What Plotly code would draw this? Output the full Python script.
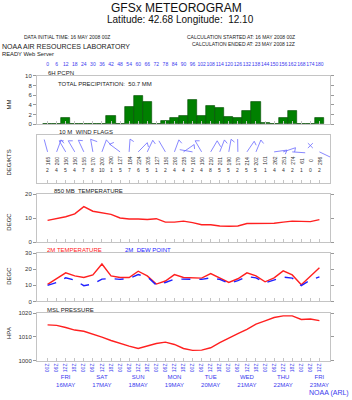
import math
import plotly.graph_objects as go

# ---------------- data ----------------
hours = list(range(0, 181, 6))
hour_labels = [str(h) for h in hours]
utc_labels = ["00Z", "06Z", "12Z", "18Z"] * 7 + ["00Z", "06Z", "12Z"]
day_ticks = [12, 36, 60, 84, 108, 132, 156, 180]
day_labels = ["FRI<br>16MAY", "SAT<br>17MAY", "SUN<br>18MAY", "MON<br>19MAY",
              "TUE<br>20MAY", "WED<br>21MAY", "THU<br>22MAY", "FRI<br>23MAY"]

precip = [0, 0, 1.3, 0.1, 0, 0, 0, 1.7, 0, 3.5, 5.9, 4.7, 0, 0.7, 1.4, 1.7,
          5.0, 1.7, 3.8, 3.4, 1.5, 1.3, 2.7, 4.7, 0.2, 0.05, 1.4, 2.8, 0, 0, 1.2]
t850 = [9.1, 9.9, 10.6, 11.8, 14.8, 12.9, 12.1, 11.6, 10.1, 9.7, 9.7, 9.5, 9.8,
        8.4, 8.4, 8.8, 8.2, 7.3, 7.3, 6.8, 6.7, 6.8, 7.8, 7.9, 8.0, 7.9, 8.4,
        8.8, 8.7, 8.6, 9.4]
t2m = [10.6, 14.1, 17.8, 15.9, 14.9, 16.5, 23.3, 15.9, 14.9, 14.9, 18.8, 15.9,
       10.8, 12.7, 16.7, 14.9, 14.5, 14.5, 17.3, 14.5, 11.8, 14.1, 17.8, 15.9,
       12.2, 14.7, 19.0, 16.5, 10.4, 15.7, 21.0]
td2m = [10.0, 11.8, 14.7, 13.3, 9.8, 10.8, 13.9, 14.3, 13.7, 14.3, 16.7, 15.3,
        10.2, 11.8, 13.9, 13.9, 13.5, 13.7, 14.7, 13.7, 11.2, 12.9, 15.5, 14.7,
        11.6, 13.3, 15.1, 14.5, 9.8, 13.3, 15.3]
mslp = [1015.1, 1014.9, 1014.0, 1012.9, 1012.4, 1011.3, 1009.9, 1008.5, 1007.2,
        1006.1, 1005.1, 1006.1, 1007.2, 1007.8, 1006.8, 1005.1, 1004.3, 1004.4,
        1005.4, 1007.6, 1009.6, 1011.4, 1013.2, 1015.4, 1016.8, 1018.2, 1018.9,
        1018.9, 1017.4, 1017.6, 1016.9]
wind_dir = [165, 200, 150, 150, 155, 170, 200, 290, 127, 184, 224, 205, 127, 150,
            200, 235, 100, 150, 210, 201, 190, 179, 214, 202, 101, 262, 251, 274,
            61, 0, 296]
wind_spd = [2, 4, 5, 4, 7, 8, 10, 1, 5, 7, 6, 5, 1, 2, 4, 4, 2, 4, 8, 5, 5, 2, 5,
            5, 1, 4, 4, 2, 1, 0, 2]

# ---------------- layout helpers ----------------
W, H = 352, 400
BLUE = "#3a3aee"
FRAME = "#c4c4c4"
FONT = "Liberation Sans"
XR = [-7, 187]
xdom = [37 / W, 330 / W]
panels = [(74, 123), (134, 183), (194, 243), (254, 303), (315, 363)]


def ydom(top, bot):
    return [1 - bot / H, 1 - top / H]


def py(px):
    return 1 - px / H


fig = go.Figure()

# precipitation bars
fig.add_trace(go.Bar(x=hours, y=precip, width=6, marker_color="#008000",
                     marker_line=dict(color="#004a00", width=0.6),
                     xaxis="x", yaxis="y", hoverinfo="skip"))

# wind flags
PXH = (330 - 37) / (XR[1] - XR[0])
PXU = 49 / 10.0
BASE = 6.5


def endpoint(x0, y0, ang, L):
    return (x0 + L * math.sin(math.radians(ang)) / PXH,
            y0 + L * math.cos(math.radians(ang)) / PXU)


wx, wy = [], []
for t, d, s in zip(hours, wind_dir, wind_spd):
    if s == 0:
        cy = BASE + 1.3
        for a in (45, 135):
            p1 = endpoint(t, cy, a, 3.5)
            p2 = endpoint(t, cy, a + 180, 3.5)
            wx += [p1[0], p2[0], None]
            wy += [p1[1], p2[1], None]
        continue
    if s <= 1:
        continue
    th = (d + 180) % 360
    tip = endpoint(t, BASE, th, 13)
    wx += [t, tip[0], None]
    wy += [BASE, tip[1], None]
    if s >= 3:
        bl = 7 if s >= 8 else 4.5
        b = endpoint(tip[0], tip[1], th + 120, bl)
        wx += [tip[0], b[0], None]
        wy += [tip[1], b[1], None]

fig.add_trace(go.Scatter(x=wx, y=wy, mode="lines", line=dict(color="#6a6aff", width=0.8),
                         xaxis="x2", yaxis="y2", hoverinfo="skip"))

# 850 mb temperature
fig.add_trace(go.Scatter(x=hours, y=t850, mode="lines", line=dict(color="#ff2020", width=1.4),
                         xaxis="x3", yaxis="y3", hoverinfo="skip"))
# 2m temp & dew point
fig.add_trace(go.Scatter(x=hours, y=t2m, mode="lines", line=dict(color="#ff2020", width=1.4),
                         xaxis="x4", yaxis="y4", hoverinfo="skip"))
fig.add_trace(go.Scatter(x=hours, y=td2m, mode="lines",
                         line=dict(color="#2020ff", width=1.4, dash="dash"),
                         xaxis="x4", yaxis="y4", hoverinfo="skip"))
# MSL pressure
fig.add_trace(go.Scatter(x=hours, y=mslp, mode="lines", line=dict(color="#ff2020", width=1.4),
                         xaxis="x5", yaxis="y5", hoverinfo="skip"))

# dummy traces so overlay axes render
fig.add_trace(go.Scatter(x=[hours[0]], y=[0], mode="markers", marker=dict(opacity=0),
                         xaxis="x6", yaxis="y", hoverinfo="skip"))
fig.add_trace(go.Scatter(x=[hours[0]], y=[1010], mode="markers", marker=dict(opacity=0),
                         xaxis="x7", yaxis="y5", hoverinfo="skip"))

xcommon = dict(range=XR, domain=xdom, showline=True, linecolor=FRAME, linewidth=1,
               mirror=True, ticks="inside", ticklen=3, tickcolor=FRAME, tickvals=hours,
               showticklabels=False, showgrid=False, zeroline=False, fixedrange=True)
ycommon = dict(showline=True, linecolor=FRAME, linewidth=1, mirror="ticks", ticks="outside",
               ticklen=3, tickcolor="#999999", tickfont=dict(size=6, color="#333333", family=FONT),
               showgrid=False, zeroline=False, fixedrange=True)

lay = {}
yspecs = [
    dict(range=[0, 10], tickvals=[0, 2, 4, 6, 8, 10]),
    dict(range=[0, 10], showticklabels=False, ticks=""),
    dict(range=[0, 20], tickvals=[0, 10, 20]),
    dict(range=[0, 30], tickvals=[0, 10, 20, 30]),
    dict(range=[1000, 1020], tickvals=[1000, 1010, 1020]),
]
for i, ((top, bot), ys) in enumerate(zip(panels, yspecs), start=1):
    sfx = "" if i == 1 else str(i)
    xa = dict(xcommon, anchor="y" + sfx)
    ya = dict(ycommon, anchor="x" + sfx, domain=ydom(top, bot))
    ya.update(ys)
    lay["xaxis" + sfx] = xa
    lay["yaxis" + sfx] = ya

lay["xaxis5"].update(showticklabels=True, ticktext=utc_labels, tickangle=-90,
                     tickfont=dict(size=5, color=BLUE, family=FONT))
lay["xaxis6"] = dict(overlaying="x", anchor="free", position=py(65), side="top",
                     range=XR, domain=xdom, tickvals=hours, ticktext=hour_labels,
                     tickangle=0,
                     tickfont=dict(size=5, color=BLUE, family=FONT), ticks="",
                     showline=False, showgrid=False, zeroline=False, fixedrange=True)
lay["xaxis7"] = dict(overlaying="x5", anchor="free", position=py(375), side="bottom",
                     range=XR, domain=xdom, tickvals=day_ticks, ticktext=day_labels,
                     tickangle=0,
                     tickfont=dict(size=6, color=BLUE, family=FONT), ticks="",
                     showline=False, showgrid=False, zeroline=False, fixedrange=True)

ann = []


def txt(x, y, s, size, color="#222222", xanchor="left", angle=0):
    ann.append(dict(x=x / W, y=py(y), xref="paper", yref="paper", text=s, showarrow=False,
                    xanchor=xanchor, yanchor="middle", textangle=angle,
                    font=dict(size=size, color=color, family=FONT)))


txt(176, 5, "GFSx METEOROGRAM", 12, "#111111", "center")
txt(180, 16.5, "Latitude: 42.68 Longitude:  12.10", 10, "#111111", "center")
txt(22, 35, "DATA INITIAL TIME: 16 MAY 2008 00Z", 5)
txt(297, 35, "CALCULATION STARTED AT: 16 MAY 2008 00Z", 5, xanchor="right")
txt(297, 42, "CALCULATION ENDED AT: 23 MAY 2008 12Z", 5, xanchor="right")
txt(0, 44.5, "NOAA AIR RESOURCES LABORATORY", 7)
txt(0, 51.7, "READY Web Server", 5.8)
txt(46, 70.7, "6H PCPN", 6)
txt(56, 82.5, "TOTAL PRECIPITATION:  50.7 MM", 6)
txt(57, 131, "10 M  WIND FLAGS", 6)
txt(52, 191, "850 MB  TEMPERATURE", 6)
txt(45, 251, "2M TEMPERATURE", 6, "#ff2020")
txt(123, 251, "2M  DEW POINT", 6, "#2020ff")
txt(45, 312, "MSL PRESSURE", 6)
txt(351, 395.5, "NOAA (ARL)", 7, BLUE, "right")
for lab, yc in [("MM", 103), ("DEG/KTS", 162), ("DEGC", 222), ("DEGC", 277), ("HPA", 335)]:
    txt(9, yc, lab, 6, "#222222", "center", -90)

for t, d, s in zip(hours, wind_dir, wind_spd):
    ann.append(dict(x=t, y=4.7, xref="x2", yref="y2", text=str(d), showarrow=False,
                    textangle=-90, font=dict(size=5, color="#333333", family=FONT)))
    ann.append(dict(x=t, y=2.8, xref="x2", yref="y2", text=str(s), showarrow=False,
                    font=dict(size=5, color="#333333", family=FONT)))

fig.update_layout(width=W, height=H, margin=dict(l=0, r=0, t=0, b=0),
                  paper_bgcolor="white", plot_bgcolor="white", showlegend=False,
                  annotations=ann, bargap=0, font=dict(family=FONT), **lay)

fig.write_html("out.html", config={"displayModeBar": False})
